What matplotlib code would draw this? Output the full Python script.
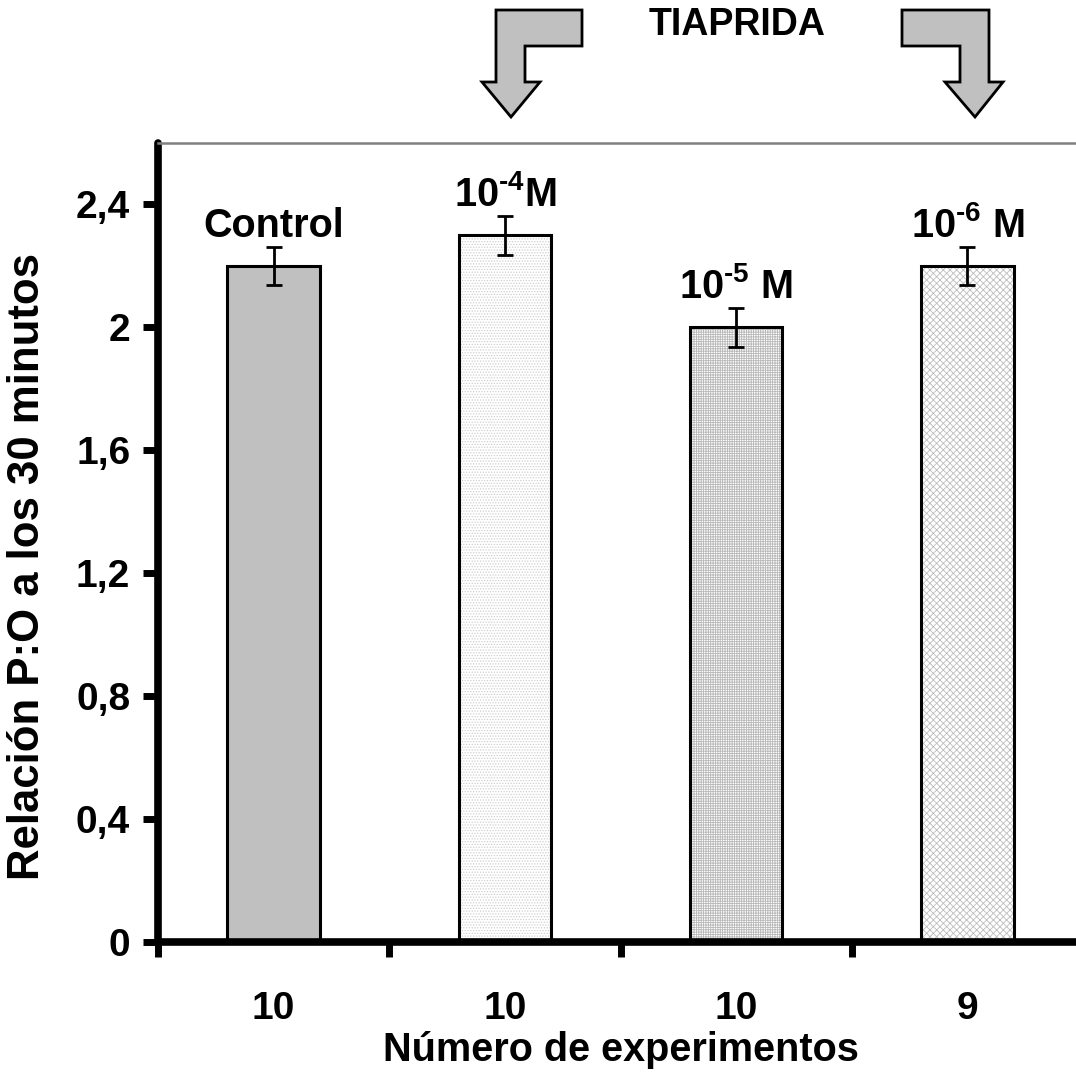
import matplotlib
matplotlib.use("Agg")
import matplotlib.pyplot as plt
from matplotlib.patches import Polygon
import numpy as np

plt.rcParams['font.family'] = ['Liberation Sans', 'DejaVu Sans']
plt.rcParams['font.weight'] = 'bold'
plt.rcParams['mathtext.default'] = 'regular'
plt.rcParams['hatch.linewidth'] = 0.6

# ---- data ----
groups = ["Control", "10$^{\u20104}$M", "10$^{\u20105}$ M", "10$^{\u20106}$ M"]
values = [2.2, 2.3, 2.0, 2.2]
errors = [0.063, 0.063, 0.063, 0.063]
n_experiments = ["10", "10", "10", "9"]
yticks = [0, 0.4, 0.8, 1.2, 1.6, 2.0, 2.4]
ytick_labels = ["0", "0,4", "0,8", "1,2", "1,6", "2", "2,4"]
ylabel = "Relación P:O a los 30 minutos"
xlabel = "Número de experimentos"
title_text = "TIAPRIDA"

W, H = 1076, 1077
fig = plt.figure(figsize=(W / 100, H / 100), dpi=100)
ax = fig.add_axes([158 / W, 1 - 942 / H, (1083 - 158) / W, (942 - 143) / H])

x = np.arange(len(values)) + 0.5
width = 0.4
fills = ["#c0c0c0", "white", "white", "white"]
hatches = [None, "......", "+++++++", "xxxxx"]
hatch_cols = ["#c0c0c0", "#cfcfcf", "#b8b8b8", "#bdbdbd"]

for xi, v, f, h, hc in zip(x, values, fills, hatches, hatch_cols):
    ax.bar(xi, v, width, color=f, edgecolor=hc, linewidth=0, hatch=h, zorder=2)
ax.bar(x, values, width, fill=False, edgecolor="black", linewidth=2.2, zorder=3)
ax.errorbar(x, values, yerr=errors, fmt="none", ecolor="black", elinewidth=2,
            capsize=6, capthick=2, zorder=4)

for xi, v, e, g in zip(x, values, errors, groups):
    ax.annotate(g, (xi, v + e), xytext=(0, 7),
                textcoords="offset points", ha="center", va="baseline",
                fontsize=28.5, fontweight="bold")

ax.set_xlim(0, 4)
ax.set_ylim(0, 2.6)
ax.set_yticks(yticks)
ax.set_yticklabels(ytick_labels)
ax.set_xticks([0, 1, 2, 3, 4])
ax.set_xticklabels([])
ax.set_xticks(x, minor=True)
ax.set_xticklabels(n_experiments, minor=True)

ax.tick_params(axis="both", which="major", direction="out", length=11, width=5,
               color="black", labelsize=28)
ax.tick_params(axis="y", pad=9)
ax.tick_params(axis="x", which="minor", length=0, pad=35, labelsize=28)
for lab in ax.get_xticklabels(minor=True) + ax.get_yticklabels():
    lab.set_fontweight("bold")

for s in ["left", "bottom"]:
    ax.spines[s].set_linewidth(5.5)
    ax.spines[s].set_color("black")
    ax.spines[s].set_capstyle("round")
ax.spines["top"].set_color("#808080")
ax.spines["top"].set_linewidth(1.8)
ax.spines["right"].set_visible(False)

ax.set_xlabel(xlabel, fontsize=28.5, fontweight="bold", labelpad=3.5)
fig.text(28 / W, 1 - 567 / H, ylabel, rotation=90, ha="center", va="center",
         fontsize=31.5, fontweight="bold")

fig.text(737 / W, 1 - 25 / H, title_text, ha="center", va="center",
         fontsize=27, fontweight="bold")


def px(pts):
    return [(a / W, 1 - b / H) for a, b in pts]

left_arrow = [(582, 10), (496, 10), (496, 82), (482, 82), (511, 117), (540, 82),
              (525, 82), (525, 46), (582, 46)]
right_arrow = [(902, 10), (989, 10), (989, 82), (1003, 82), (975, 117), (945, 82),
               (960, 82), (960, 46), (902, 46)]
for pts in (left_arrow, right_arrow):
    fig.patches.append(Polygon(px(pts), closed=True, transform=fig.transFigure,
                               facecolor="#c0c0c0", edgecolor="black", linewidth=2,
                               joinstyle="miter"))

fig.savefig("out.png", dpi=100)
